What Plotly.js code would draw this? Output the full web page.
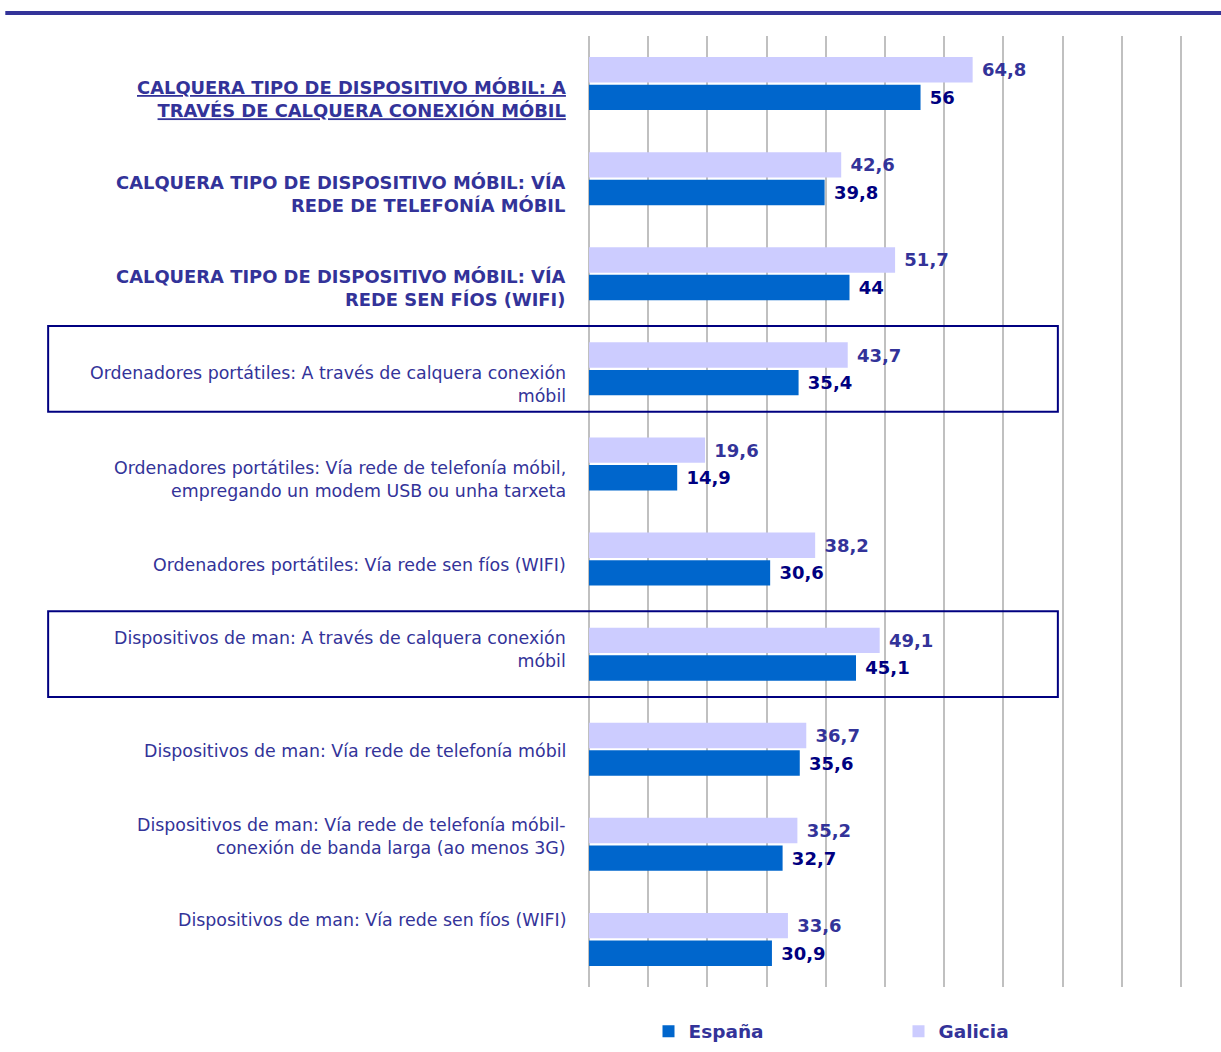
<!DOCTYPE html>
<html>
<head>
<meta charset="utf-8">
<script src="https://cdn.plot.ly/plotly-3.0.1.min.js"></script>
<style>
  html, body { margin: 0; padding: 0; background: #fff; }
  #chart { width: 1221px; height: 1052px; }
</style>
</head>
<body>
<div id="chart"></div>
<script>
// Categories, top to bottom
const categories = [
    'CALQUERA TIPO DE DISPOSITIVO MÓBIL: A<br>TRAVÉS DE CALQUERA CONEXIÓN MÓBIL',
    'CALQUERA TIPO DE DISPOSITIVO MÓBIL: VÍA<br>REDE DE TELEFONÍA MÓBIL',
    'CALQUERA TIPO DE DISPOSITIVO MÓBIL: VÍA<br>REDE SEN FÍOS (WIFI)',
    'Ordenadores portátiles: A través de calquera conexión<br>móbil',
    'Ordenadores portátiles: Vía rede de telefonía móbil,<br>empregando un modem USB ou unha tarxeta',
    'Ordenadores portátiles: Vía rede sen fíos (WIFI)',
    'Dispositivos de man: A través de calquera conexión<br>móbil',
    'Dispositivos de man: Vía rede de telefonía móbil',
    'Dispositivos de man: Vía rede de telefonía móbil-<br>conexión de banda larga (ao menos 3G)',
    'Dispositivos de man: Vía rede sen fíos (WIFI)'
];

const galicia = [64.8, 42.6, 51.7, 43.7, 19.6, 38.2, 49.1, 36.7, 35.2, 33.6];
const espana  = [56, 39.8, 44, 35.4, 14.9, 30.6, 45.1, 35.6, 32.7, 30.9];

const seriesNames = ['España', 'Galicia'];

// Which categories are summary rows (bold), and which are boxed
const boldRows = [0, 1, 2];
const boxedRows = [3, 6];

const fmt = v => String(v).replace('.', ',');
const ids = categories.map((_, i) => 'c' + i);
const FONT = 'DejaVu Sans, Verdana, sans-serif';

const traceGalicia = {
    name: seriesNames[1],
    y: ids,
    x: galicia,
    type: 'bar',
    orientation: 'h',
    marker: { color: '#CCCCFF', line: { width: 0 } },
    text: galicia.map(fmt),
    texttemplate: ' %{text}',
    textposition: 'outside',
    textfont: { family: FONT, size: 18, color: '#333399', weight: 'bold' },
    hoverinfo: 'x',
    legendrank: 2
};

const traceEspana = {
    name: seriesNames[0],
    y: ids,
    x: espana,
    type: 'bar',
    orientation: 'h',
    marker: { color: '#0066CC', line: { width: 0 } },
    text: espana.map(fmt),
    texttemplate: ' %{text}',
    textposition: 'outside',
    textfont: { family: FONT, size: 18, color: '#000080', weight: 'bold' },
    hoverinfo: 'x',
    legendrank: 1
};

// Category labels drawn as annotations (Excel places them slightly off-centre)
const labelShift = [-15, -15, -14, -16, -16, -6, 5, -2, 8, 19];
const annotations = categories.map((c, i) => {
    let txt = c;
    let size = 17.4;
    if (boldRows.includes(i)) { txt = '<b>' + txt + '</b>'; size = 17.9; }
    if (i === 0) txt = '<span style="text-decoration:underline">' + txt + '</span>';
    return {
        text: txt,
        xref: 'paper', yref: 'y',
        x: -0.036, y: ids[i],
        xanchor: 'right', yanchor: 'middle',
        align: 'right',
        yshift: labelShift[i],
        showarrow: false,
        font: { family: FONT, size: size, color: '#333399' }
    };
});

const shapes = [
    // thick rule at the top
    {
        type: 'line', xref: 'paper', yref: 'paper',
        x0: -0.981, x1: 1.07, y0: 1.0242, y1: 1.0242,
        line: { color: '#333399', width: 4 }
    }
];
boxedRows.forEach(i => {
    shapes.push({
        type: 'rect', xref: 'paper', yref: 'y',
        x0: -0.909, x1: 0.788, y0: i - 0.45, y1: i + 0.45,
        line: { color: '#000080', width: 2 },
        fillcolor: 'rgba(0,0,0,0)'
    });
});

const layout = {
    width: 1221,
    height: 1052,
    margin: { l: 589, r: 37, t: 36, b: 65, autoexpand: false },
    paper_bgcolor: '#ffffff',
    plot_bgcolor: '#ffffff',
    barmode: 'group',
    bargap: 0.42,
    bargroupgap: 0.08,
    showlegend: true,
    legend: {
        orientation: 'h',
        x: 0.1, xanchor: 'left',
        y: -0.027, yanchor: 'top',
        entrywidth: 205, entrywidthmode: 'pixels',
        font: { family: FONT, size: 18.5, color: '#333399', weight: 'bold' },
        bgcolor: 'rgba(0,0,0,0)'
    },
    xaxis: {
        range: [0, 100.5],
        dtick: 10,
        showgrid: true,
        gridcolor: '#C0C0C0',
        gridwidth: 2,
        zeroline: true,
        zerolinecolor: '#C0C0C0',
        zerolinewidth: 2,
        showticklabels: false,
        ticks: '',
        fixedrange: true
    },
    yaxis: {
        type: 'category',
        categoryorder: 'array',
        categoryarray: ids,
        range: [9.5, -0.5],
        showticklabels: false,
        showgrid: false,
        zeroline: false,
        ticks: '',
        fixedrange: true
    },
    annotations: annotations,
    shapes: shapes
};

Plotly.newPlot('chart', [traceGalicia, traceEspana], layout, { displayModeBar: false, staticPlot: true });
</script>
</body>
</html>
